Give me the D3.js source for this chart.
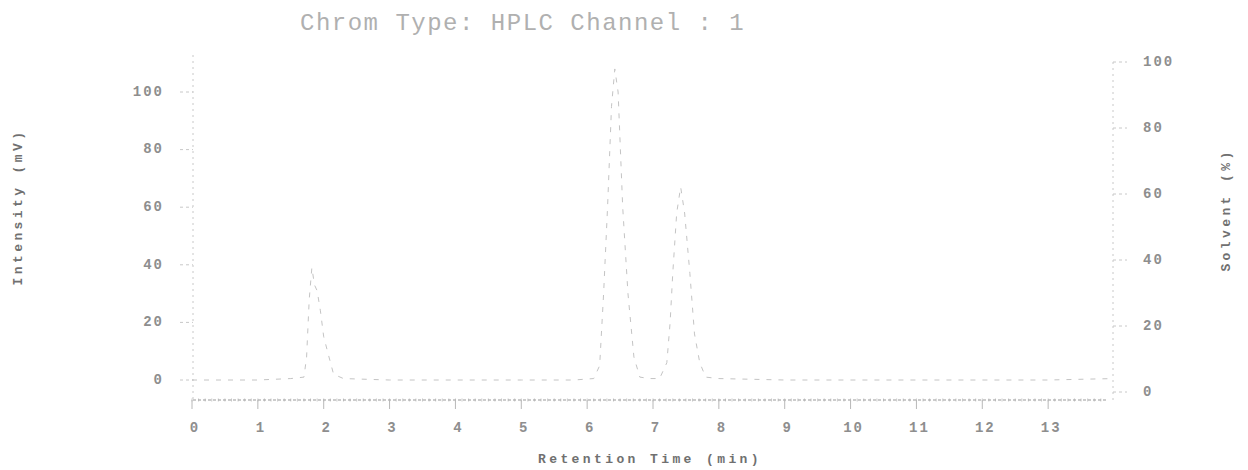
<!DOCTYPE html>
<html>
<head>
<meta charset="utf-8">
<script src="https://cdn.jsdelivr.net/npm/d3@7"></script>
<style>
  body { margin: 0; background: #fff; }
  text { font-family: "Liberation Mono", "DejaVu Sans Mono", monospace; }
  .tick-label { font-size: 14px; font-weight: bold; fill: #8e8e8e; letter-spacing: 2px; }
  .axis-title { font-size: 13px; font-weight: bold; fill: #707070; letter-spacing: 3.4px; }
  .title { font-size: 24px; fill: #b0b0b0; letter-spacing: 1.5px; }
</style>
</head>
<body>
<div class="chart-area"></div>
<script>
// retention time (min) and detector intensity (mV)
var times = [0, 0.5, 1.0, 1.5, 1.7, 1.74, 1.78, 1.82, 1.86, 1.9, 1.95, 2.0, 2.08, 2.15, 2.3,
             3, 4, 5, 5.8, 6.1, 6.19, 6.25, 6.31, 6.37, 6.42, 6.47, 6.54, 6.62, 6.71, 6.8, 6.95,
             7.1, 7.21, 7.26, 7.3, 7.36, 7.42, 7.48, 7.56, 7.63, 7.71, 7.8, 8, 9, 10, 11, 12, 13, 14];
var intensity = [0, 0, 0, 0.5, 1, 8, 28, 39, 33, 31, 24, 15, 8, 2, 0.5,
                 0, 0, 0, 0, 0.5, 5, 30, 60, 95, 108, 100, 60, 30, 8, 1, 0.5,
                 0.5, 6, 20, 37, 58, 67, 58, 37, 16, 6, 1, 0.5, 0, 0, 0, 0, 0, 0.5];
var xTicks = [0, 1, 2, 3, 4, 5, 6, 7, 8, 9, 10, 11, 12, 13];
var leftTicks = [0, 20, 40, 60, 80, 100];
var rightTicks = [0, 20, 40, 60, 80, 100];

var width = 1248,
    height = 470,
    svg = d3.select(".chart-area")
            .append("svg")
            .attr("width", width)
            .attr("height", height);

var x = d3.scaleLinear().domain([0, 14]).range([192, 1114]),
    y = d3.scaleLinear().domain([0, 100]).range([380, 92]),
    y2 = d3.scaleLinear().domain([0, 100]).range([392, 62]);

var axisY = 400;

// title
svg.append("text")
   .attr("class", "title")
   .attr("x", 300)
   .attr("y", 30)
   .text("Chrom Type: HPLC Channel : 1");

// x axis: dotted base line with minor and major ticks
svg.append("line")
   .attr("x1", 193).attr("x2", 1108)
   .attr("y1", axisY).attr("y2", axisY)
   .attr("stroke", "#999")
   .attr("stroke-width", 1)
   .attr("stroke-dasharray", "3,2");

svg.selectAll(".minor")
   .data(d3.range(0, 139).map(function(i) { return i / 10 }))
   .enter()
   .append("line")
   .attr("class", "minor")
   .attr("x1", function(d) { return x(d) })
   .attr("x2", function(d) { return x(d) })
   .attr("y1", axisY - 1.5)
   .attr("y2", axisY + 1.5)
   .attr("stroke", "#b0b0b0")
   .attr("stroke-width", 0.7);

svg.selectAll(".major")
   .data(xTicks)
   .enter()
   .append("line")
   .attr("class", "major")
   .attr("x1", function(d) { return x(d) })
   .attr("x2", function(d) { return x(d) })
   .attr("y1", axisY)
   .attr("y2", axisY + 9)
   .attr("stroke", "#b8b8b8")
   .attr("stroke-width", 1);

svg.selectAll(".xlabel")
   .data(xTicks)
   .enter()
   .append("text")
   .attr("class", "tick-label")
   .attr("text-anchor", "middle")
   .attr("x", function(d) { return x(d) + 3 })
   .attr("y", 432)
   .text(function(d) { return d });

svg.append("text")
   .attr("class", "axis-title")
   .attr("text-anchor", "middle")
   .attr("x", 650)
   .attr("y", 463)
   .text("Retention Time (min)");

// left axis
svg.append("line")
   .attr("x1", 193).attr("x2", 193)
   .attr("y1", 55).attr("y2", axisY)
   .attr("stroke", "#c8c8c8")
   .attr("stroke-dasharray", "2,4");

svg.selectAll(".ltick")
   .data(leftTicks)
   .enter()
   .append("line")
   .attr("class", "ltick")
   .attr("x1", 180).attr("x2", 193)
   .attr("y1", function(d) { return y(d) })
   .attr("y2", function(d) { return y(d) })
   .attr("stroke", "#c8c8c8")
   .attr("stroke-dasharray", "3,3");

svg.selectAll(".llabel")
   .data(leftTicks)
   .enter()
   .append("text")
   .attr("class", "tick-label")
   .attr("text-anchor", "end")
   .attr("dominant-baseline", "middle")
   .attr("x", 164)
   .attr("y", function(d) { return y(d) })
   .text(function(d) { return d });

svg.append("text")
   .attr("class", "axis-title")
   .attr("text-anchor", "middle")
   .attr("transform", "translate(22,207) rotate(-90)")
   .text("Intensity (mV)");

// right axis
svg.append("line")
   .attr("x1", 1113).attr("x2", 1113)
   .attr("y1", 62).attr("y2", axisY)
   .attr("stroke", "#c8c8c8")
   .attr("stroke-dasharray", "2,4");

svg.selectAll(".rtick")
   .data(rightTicks)
   .enter()
   .append("line")
   .attr("class", "rtick")
   .attr("x1", 1113).attr("x2", 1127)
   .attr("y1", function(d) { return y2(d) })
   .attr("y2", function(d) { return y2(d) })
   .attr("stroke", "#c8c8c8")
   .attr("stroke-dasharray", "3,3");

svg.selectAll(".rlabel")
   .data(rightTicks)
   .enter()
   .append("text")
   .attr("class", "tick-label")
   .attr("text-anchor", "start")
   .attr("dominant-baseline", "middle")
   .attr("x", 1143)
   .attr("y", function(d) { return y2(d) })
   .text(function(d) { return d });

svg.append("text")
   .attr("class", "axis-title")
   .attr("text-anchor", "middle")
   .attr("transform", "translate(1230,210) rotate(-90)")
   .text("Solvent (%)");

// chromatogram trace (faded print)
var line = d3.line()
   .x(function(d, i) { return x(times[i]) })
   .y(function(d) { return y(d) });

svg.append("path")
   .datum(intensity)
   .attr("d", line)
   .attr("fill", "none")
   .attr("stroke", "#c4c4c4")
   .attr("stroke-width", 1)
   .attr("stroke-dasharray", "5,7");
</script>
</body>
</html>
